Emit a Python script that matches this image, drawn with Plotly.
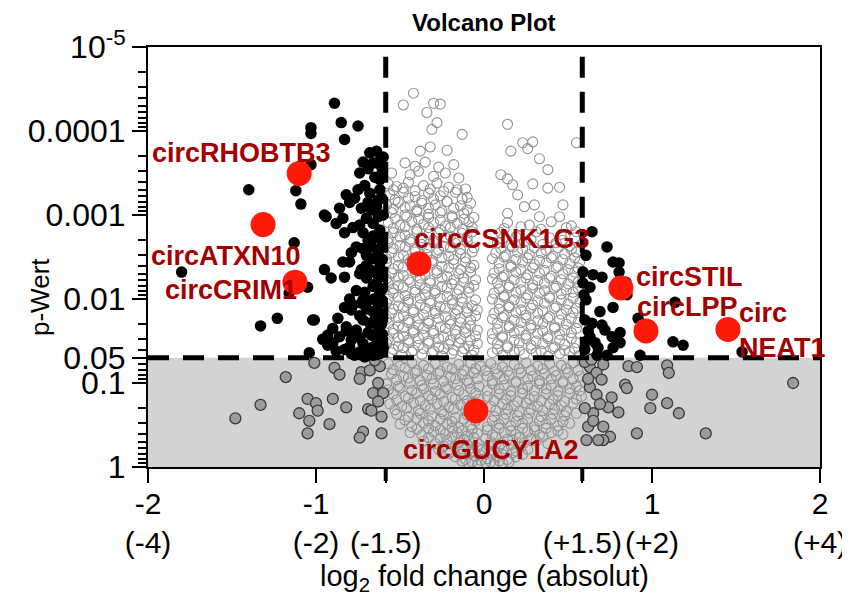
import plotly.graph_objects as go

# ---------------- data ----------------
# each point: (log2 fold change, -log10 p-value)
FC_CUT = 0.585   # log2(1.5)
P_CUT = 0.05

red_names = ["circRHOBTB3", "circATXN10", "circCRIM1", "circCSNK1G3",
             "circGUCY1A2", "circSTIL", "circLPP", "circNEAT1"]
red_fc = [-1.10, -1.315, -1.125, -0.387, -0.048, 0.815, 0.964, 1.452]
red_p = [3.2e-4, 1.3e-3, 6.3e-3, 3.8e-3, 0.215, 7.4e-3, 0.024, 0.023]

# label anchor positions (fold change, -log10 p)
label_text = ["circRHOBTB3", "circATXN10", "circCRIM1", "circCSNK1G3",
              "circGUCY1A2", "circSTIL", "circLPP", "circ<br>NEAT1"]
label_fc = [-1.446, -1.536, -1.506, 0.107, 0.042, 1.226, 1.214, 1.506]
label_nlp = [3.74, 2.51, 2.11, 2.71, 0.20, 2.26, 1.90, 1.63]

black_pts = [
    (-0.89, 4.33), (-0.85, 4.10), (-0.75, 4.06), (-1.03, 4.04), (-1.03, 3.97), (-0.83, 3.90),
    (-0.68, 3.74), (-0.64, 3.76), (-0.60, 3.69), (-0.72, 3.63), (-0.63, 3.63), (-1.03, 3.60),
    (-0.74, 3.50), (-1.40, 3.30), (-1.12, 3.29), (-1.09, 3.13), (-0.75, 3.30), (-0.82, 3.24),
    (-0.77, 3.20), (-0.68, 3.26), (-0.62, 3.30), (-0.63, 3.18), (-0.86, 3.08), (-0.73, 3.08),
    (-0.67, 3.06), (-0.94, 2.98), (-0.84, 2.96), (-0.70, 2.96), (-0.63, 2.98), (-0.88, 2.90),
    (-0.74, 2.88), (-0.66, 2.90), (-0.62, 2.82), (-0.83, 2.79), (-0.72, 2.79), (-0.64, 2.73),
    (-0.76, 2.62), (-0.67, 2.62), (-0.61, 2.62), (-1.13, 2.67), (-0.84, 2.44), (-0.80, 2.44),
    (-0.95, 2.35), (-0.91, 2.25), (-0.83, 2.26), (-0.73, 2.35), (-0.68, 2.35), (-0.62, 2.38),
    (-0.70, 2.25), (-0.64, 2.19), (-0.71, 2.08), (-0.62, 2.07), (-1.05, 2.14), (-1.80, 2.32),
    (-1.16, 2.07), (-0.78, 1.93), (-0.72, 1.99), (-0.63, 1.93), (-0.79, 1.87), (-1.01, 1.75),
    (-0.87, 1.77), (-0.82, 1.67), (-0.72, 1.75), (-0.68, 1.71), (-0.63, 1.67), (-0.76, 1.63),
    (-0.93, 1.57), (-0.86, 1.55), (-0.90, 1.48), (-0.79, 1.51), (-0.74, 1.54), (-0.67, 1.57),
    (-0.62, 1.51), (-0.80, 1.43), (-0.66, 1.43), (-0.60, 1.42), (-1.04, 1.36), (-0.77, 1.33),
    (-0.71, 1.31), (-1.23, 1.77), (-1.33, 1.68), (-1.02, 1.75), (-0.95, 3.00),
    (-0.605, 3.52), (-0.62, 3.42), (-0.65, 3.45), (-0.61, 3.20), (-0.64, 3.10), (-0.60, 3.00),
    (-0.66, 2.75), (-0.61, 2.70), (-0.69, 2.70), (-0.63, 2.55), (-0.605, 2.47), (-0.66, 2.48),
    (-0.70, 2.52), (-0.64, 2.30), (-0.605, 2.27), (-0.66, 2.15), (-0.605, 2.12), (-0.69, 1.98),
    (-0.655, 2.00), (-0.605, 1.98), (-0.70, 1.88), (-0.66, 1.85), (-0.605, 1.82), (-0.74, 1.80),
    (-0.645, 1.77), (-0.61, 1.70), (-0.69, 1.60), (-0.65, 1.55), (-0.605, 1.58), (-0.72, 1.47),
    (-0.635, 1.45), (-0.68, 1.40), (-0.62, 1.35), (-0.74, 1.37), (-0.66, 1.33), (-0.79, 1.35),
    (-0.83, 1.40), (-0.88, 1.38), (-0.71, 3.35), (-0.69, 3.15), (-0.72, 2.60), (-0.70, 2.40),
    (-0.74, 2.30), (-0.76, 2.10), (-0.73, 1.95), (-0.80, 2.00), (-0.83, 1.90), (-0.77, 1.55),
    (-0.82, 1.62), (-0.90, 1.65), (-0.93, 1.45), (-0.96, 1.52), (-0.79, 2.55), (-0.78, 2.85),
    (-0.80, 3.15), (-0.69, 3.55), (-0.66, 3.62), (-0.62, 3.60),
    # right side
    (0.643, 2.80), (0.732, 2.62), (0.768, 2.44), (0.804, 2.43), (0.804, 2.32), (0.589, 2.32),
    (0.649, 2.29), (0.702, 2.26), (0.631, 2.14), (0.589, 2.19), (0.845, 2.20), (0.851, 2.05),
    (0.768, 1.90), (0.917, 1.77), (0.643, 1.71), (0.702, 1.69), (0.720, 1.63), (0.762, 1.55),
    (0.810, 1.60), (0.631, 1.55), (0.661, 1.48), (0.679, 1.42), (0.768, 1.42), (0.810, 1.48),
    (0.929, 1.33), (1.137, 1.96), (1.125, 1.49), (1.185, 1.45), (1.536, 1.37), (0.673, 1.33),
    (0.607, 1.99), (0.601, 1.75), (0.619, 1.51), (0.690, 1.85), (0.732, 1.33), (0.607, 2.52),
    (0.595, 2.05), (0.62, 1.62), (0.60, 1.40),
]

gray_pts = [
    (-1.48, 0.58), (-1.33, 0.74), (-1.18, 1.07), (-1.01, 1.24), (-1.05, 0.81), (-1.00, 0.76),
    (-0.99, 0.67), (-1.10, 0.64), (-1.04, 0.55), (-1.05, 0.40), (-0.90, 0.81), (-0.92, 0.51),
    (-0.89, 1.18), (-0.86, 1.10), (-0.82, 0.71), (-0.73, 1.13), (-0.68, 1.15), (-0.74, 1.05),
    (-0.63, 1.00), (-0.66, 0.88), (-0.60, 0.88), (-0.69, 0.69), (-0.67, 0.67), (-0.72, 0.42),
    (-0.74, 0.35), (-0.61, 0.40), (-0.62, 1.20), (-0.65, 1.27), (-0.61, 0.60), (-0.63, 0.78),
    (1.09, 1.21), (1.10, 1.12), (0.86, 1.20), (0.91, 1.19), (0.84, 0.98), (0.85, 0.94),
    (1.00, 0.86), (1.09, 0.76), (1.16, 0.64), (0.76, 0.83), (0.74, 0.71), (0.80, 0.65),
    (0.99, 0.70), (0.71, 0.48), (0.75, 0.36), (0.71, 0.32), (0.91, 0.40), (1.32, 0.40),
    (1.84, 1.00), (0.63, 1.19), (0.67, 1.12), (0.70, 1.04), (0.63, 0.95), (0.67, 0.86),
    (0.65, 0.64), (0.62, 0.48), (0.68, 0.32), (0.61, 0.32), (0.60, 1.25), (0.64, 1.28),
    (0.71, 1.22), (0.62, 1.05), (0.69, 0.75), (0.60, 0.70), (0.65, 0.55),
]

white_pts = [
    # left lobe, sparse top
    (-0.42, 4.45), (-0.48, 4.31), (-0.30, 4.33), (-0.26, 4.32), (-0.34, 4.22), (-0.28, 4.10),
    (-0.31, 4.02), (-0.13, 3.96), (-0.38, 3.76), (-0.32, 3.81), (-0.22, 3.77), (-0.47, 3.62),
    (-0.41, 3.58), (-0.35, 3.63), (-0.27, 3.57), (-0.18, 3.60), (-0.55, 3.50), (-0.44, 3.48),
    (-0.39, 3.52), (-0.30, 3.46), (-0.23, 3.50), (-0.15, 3.44),
    # left lobe, dense part
    (-0.57, 3.37), (-0.52, 3.34), (-0.45, 3.39), (-0.36, 3.35), (-0.28, 3.38), (-0.21, 3.33), (-0.11, 3.31),
    (-0.54, 3.30), (-0.48, 3.32), (-0.41, 3.29), (-0.32, 3.31), (-0.24, 3.28), (-0.16, 3.30),
    (-0.56, 3.24), (-0.48, 3.27), (-0.41, 3.22), (-0.33, 3.26), (-0.26, 3.23), (-0.17, 3.27), (-0.10, 3.21),
    (-0.53, 3.18), (-0.45, 3.20), (-0.37, 3.17), (-0.30, 3.19), (-0.22, 3.16), (-0.13, 3.19),
    (-0.58, 3.12), (-0.51, 3.15), (-0.44, 3.11), (-0.37, 3.14), (-0.29, 3.12), (-0.22, 3.16), (-0.14, 3.11), (-0.08, 3.14),
    (-0.54, 3.07), (-0.47, 3.09), (-0.40, 3.06), (-0.33, 3.08), (-0.25, 3.05), (-0.18, 3.08), (-0.10, 3.06),
    (-0.55, 3.03), (-0.47, 3.00), (-0.40, 3.04), (-0.33, 3.01), (-0.26, 3.03), (-0.19, 2.99), (-0.12, 3.02),
    (-0.53, 2.96), (-0.46, 2.98), (-0.39, 2.95), (-0.33, 2.97), (-0.26, 2.94), (-0.19, 2.97), (-0.12, 2.95), (-0.06, 2.97),
    (-0.57, 2.91), (-0.50, 2.88), (-0.43, 2.92), (-0.36, 2.89), (-0.30, 2.91), (-0.23, 2.87), (-0.16, 2.90), (-0.09, 2.92),
    (-0.54, 2.84), (-0.47, 2.86), (-0.40, 2.83), (-0.33, 2.85), (-0.26, 2.82), (-0.20, 2.85), (-0.13, 2.83), (-0.07, 2.85),
    (-0.54, 2.79), (-0.47, 2.76), (-0.40, 2.80), (-0.33, 2.77), (-0.27, 2.79), (-0.20, 2.75), (-0.13, 2.78), (-0.07, 2.80),
    (-0.57, 2.72), (-0.50, 2.74), (-0.44, 2.71), (-0.37, 2.73), (-0.30, 2.70), (-0.23, 2.73), (-0.16, 2.71), (-0.10, 2.73),
    (-0.57, 2.67), (-0.50, 2.64), (-0.44, 2.68), (-0.37, 2.65), (-0.30, 2.67), (-0.24, 2.63), (-0.17, 2.66), (-0.10, 2.68),
    (-0.54, 2.60), (-0.47, 2.62), (-0.41, 2.59), (-0.34, 2.61), (-0.27, 2.58), (-0.20, 2.61), (-0.14, 2.59), (-0.06, 2.61),
    (-0.55, 2.55), (-0.48, 2.52), (-0.41, 2.56), (-0.34, 2.53), (-0.28, 2.55), (-0.21, 2.51), (-0.14, 2.54), (-0.07, 2.56),
    (-0.58, 2.48), (-0.51, 2.50), (-0.45, 2.47), (-0.38, 2.49), (-0.31, 2.46), (-0.25, 2.49), (-0.18, 2.47), (-0.11, 2.49),
    (-0.58, 2.43), (-0.51, 2.40), (-0.44, 2.44), (-0.38, 2.41), (-0.31, 2.43), (-0.25, 2.39), (-0.18, 2.42), (-0.11, 2.44), (-0.06, 2.40),
    (-0.54, 2.36), (-0.48, 2.38), (-0.41, 2.35), (-0.35, 2.37), (-0.28, 2.34), (-0.21, 2.37), (-0.14, 2.35), (-0.08, 2.37),
    (-0.55, 2.31), (-0.48, 2.28), (-0.41, 2.32), (-0.35, 2.29), (-0.28, 2.31), (-0.22, 2.27), (-0.15, 2.30), (-0.08, 2.32),
    (-0.58, 2.24), (-0.51, 2.26), (-0.45, 2.23), (-0.38, 2.25), (-0.32, 2.22), (-0.25, 2.25), (-0.18, 2.23), (-0.12, 2.25), (-0.05, 2.23),
    (-0.57, 2.19), (-0.51, 2.16), (-0.44, 2.20), (-0.38, 2.17), (-0.32, 2.19), (-0.25, 2.15), (-0.19, 2.18), (-0.12, 2.20), (-0.06, 2.16),
    (-0.54, 2.12), (-0.48, 2.14), (-0.41, 2.11), (-0.35, 2.13), (-0.29, 2.10), (-0.22, 2.13), (-0.15, 2.11), (-0.09, 2.13),
    (-0.54, 2.07), (-0.47, 2.04), (-0.41, 2.08), (-0.35, 2.05), (-0.29, 2.07), (-0.22, 2.03), (-0.16, 2.06), (-0.09, 2.08),
    (-0.57, 2.00), (-0.51, 2.02), (-0.45, 1.99), (-0.38, 2.01), (-0.32, 1.98), (-0.26, 2.01), (-0.19, 1.99), (-0.13, 2.01), (-0.05, 1.99),
    (-0.58, 1.95), (-0.51, 1.92), (-0.45, 1.96), (-0.38, 1.93), (-0.32, 1.95), (-0.26, 1.91), (-0.19, 1.94), (-0.13, 1.96), (-0.07, 1.92),
    (-0.54, 1.88), (-0.48, 1.90), (-0.42, 1.87), (-0.35, 1.89), (-0.29, 1.86), (-0.23, 1.89), (-0.16, 1.87), (-0.10, 1.89), (-0.04, 1.87),
    (-0.55, 1.83), (-0.48, 1.80), (-0.42, 1.84), (-0.36, 1.81), (-0.29, 1.83), (-0.23, 1.79), (-0.17, 1.82), (-0.10, 1.84), (-0.05, 1.80),
    (-0.58, 1.76), (-0.51, 1.78), (-0.45, 1.75), (-0.39, 1.77), (-0.33, 1.74), (-0.27, 1.77), (-0.20, 1.75), (-0.14, 1.77), (-0.08, 1.75),
    (-0.57, 1.71), (-0.51, 1.68), (-0.45, 1.72), (-0.39, 1.69), (-0.33, 1.71), (-0.26, 1.67), (-0.20, 1.70), (-0.14, 1.72), (-0.08, 1.68),
    (-0.54, 1.64), (-0.48, 1.66), (-0.42, 1.63), (-0.36, 1.65), (-0.30, 1.62), (-0.23, 1.65), (-0.17, 1.63), (-0.11, 1.65), (-0.04, 1.63),
    (-0.54, 1.59), (-0.48, 1.56), (-0.42, 1.60), (-0.36, 1.57), (-0.30, 1.59), (-0.24, 1.55), (-0.17, 1.58), (-0.11, 1.60), (-0.05, 1.56),
    (-0.57, 1.52), (-0.51, 1.54), (-0.45, 1.51), (-0.39, 1.53), (-0.33, 1.50), (-0.27, 1.53), (-0.20, 1.51), (-0.14, 1.53), (-0.08, 1.51),
    (-0.58, 1.47), (-0.51, 1.44), (-0.45, 1.48), (-0.39, 1.45), (-0.33, 1.47), (-0.27, 1.43), (-0.21, 1.46), (-0.15, 1.48), (-0.09, 1.44), (-0.04, 1.47),
    (-0.54, 1.40), (-0.48, 1.42), (-0.42, 1.39), (-0.36, 1.41), (-0.30, 1.38), (-0.24, 1.41), (-0.18, 1.39), (-0.12, 1.41), (-0.06, 1.39),
    (-0.55, 1.36), (-0.49, 1.33), (-0.43, 1.37), (-0.37, 1.34), (-0.31, 1.36), (-0.25, 1.32), (-0.19, 1.35), (-0.13, 1.37), (-0.07, 1.33),
    # right lobe, sparse top
    (0.14, 4.08), (0.23, 3.86), (0.29, 3.87), (0.26, 3.79), (0.55, 3.86), (0.16, 3.76), (0.33, 3.67),
    (0.38, 3.54), (0.10, 3.48), (0.14, 3.43), (0.17, 3.36), (0.29, 3.37), (0.38, 3.32), (0.45, 3.33),
    (0.20, 3.24), (0.24, 3.10), (0.30, 3.12), (0.47, 3.12), (0.33, 2.98), (0.14, 3.02), (0.45, 2.98),
    # right lobe, dense part
    (0.14, 2.91), (0.27, 2.88), (0.40, 2.92), (0.52, 2.87),
    (0.12, 2.84), (0.22, 2.86), (0.34, 2.83), (0.49, 2.85),
    (0.10, 2.79), (0.20, 2.76), (0.31, 2.80), (0.46, 2.77), (0.55, 2.80),
    (0.11, 2.72), (0.19, 2.74), (0.28, 2.71), (0.39, 2.73), (0.47, 2.70), (0.54, 2.73),
    (0.08, 2.67), (0.16, 2.64), (0.24, 2.68), (0.35, 2.65), (0.43, 2.67), (0.51, 2.63),
    (0.10, 2.60), (0.17, 2.62), (0.23, 2.59), (0.30, 2.61), (0.37, 2.58), (0.44, 2.61), (0.52, 2.59),
    (0.07, 2.55), (0.13, 2.52), (0.20, 2.56), (0.27, 2.53), (0.34, 2.55), (0.41, 2.51), (0.48, 2.54), (0.55, 2.56),
    (0.05, 2.48), (0.12, 2.50), (0.19, 2.47), (0.26, 2.49), (0.33, 2.46), (0.40, 2.49), (0.47, 2.47), (0.54, 2.49),
    (0.09, 2.43), (0.16, 2.40), (0.23, 2.44), (0.30, 2.41), (0.37, 2.43), (0.44, 2.39), (0.51, 2.42), (0.57, 2.44),
    (0.09, 2.36), (0.16, 2.38), (0.22, 2.35), (0.29, 2.37), (0.36, 2.34), (0.43, 2.37), (0.50, 2.35), (0.56, 2.37),
    (0.06, 2.31), (0.12, 2.28), (0.19, 2.32), (0.26, 2.29), (0.33, 2.31), (0.40, 2.27), (0.47, 2.30), (0.54, 2.32),
    (0.05, 2.24), (0.11, 2.26), (0.18, 2.23), (0.25, 2.25), (0.32, 2.22), (0.39, 2.25), (0.46, 2.23), (0.53, 2.25),
    (0.08, 2.19), (0.15, 2.16), (0.22, 2.20), (0.29, 2.17), (0.36, 2.19), (0.43, 2.15), (0.50, 2.18), (0.56, 2.20),
    (0.09, 2.12), (0.15, 2.14), (0.22, 2.11), (0.29, 2.13), (0.36, 2.10), (0.42, 2.13), (0.49, 2.11), (0.56, 2.13),
    (0.06, 2.07), (0.12, 2.04), (0.19, 2.08), (0.26, 2.05), (0.33, 2.07), (0.39, 2.03), (0.46, 2.06), (0.53, 2.08),
    (0.05, 2.00), (0.12, 2.02), (0.18, 1.99), (0.25, 2.01), (0.32, 1.98), (0.39, 2.01), (0.46, 1.99), (0.53, 2.01),
    (0.09, 1.95), (0.15, 1.92), (0.22, 1.96), (0.29, 1.93), (0.36, 1.95), (0.43, 1.91), (0.50, 1.94), (0.57, 1.96),
    (0.09, 1.88), (0.15, 1.90), (0.22, 1.87), (0.28, 1.89), (0.35, 1.86), (0.42, 1.89), (0.49, 1.87), (0.55, 1.89),
    (0.06, 1.83), (0.12, 1.80), (0.19, 1.84), (0.25, 1.81), (0.32, 1.83), (0.39, 1.79), (0.46, 1.82), (0.53, 1.84),
    (0.05, 1.76), (0.11, 1.78), (0.18, 1.75), (0.25, 1.77), (0.32, 1.74), (0.38, 1.77), (0.45, 1.75), (0.52, 1.77),
    (0.08, 1.71), (0.15, 1.68), (0.22, 1.72), (0.28, 1.69), (0.35, 1.71), (0.42, 1.67), (0.49, 1.70), (0.56, 1.72),
    (0.08, 1.64), (0.15, 1.66), (0.21, 1.63), (0.28, 1.65), (0.35, 1.62), (0.42, 1.65), (0.48, 1.63), (0.55, 1.65),
    (0.05, 1.59), (0.11, 1.56), (0.18, 1.60), (0.25, 1.57), (0.32, 1.59), (0.38, 1.55), (0.45, 1.58), (0.52, 1.60),
    (0.05, 1.52), (0.11, 1.54), (0.18, 1.51), (0.25, 1.53), (0.31, 1.50), (0.38, 1.53), (0.45, 1.51), (0.52, 1.53),
    (0.08, 1.47), (0.14, 1.44), (0.21, 1.48), (0.28, 1.45), (0.35, 1.47), (0.42, 1.43), (0.48, 1.46), (0.55, 1.48),
    (0.08, 1.40), (0.14, 1.42), (0.21, 1.39), (0.28, 1.41), (0.34, 1.38), (0.41, 1.41), (0.48, 1.39), (0.54, 1.41),
    (0.05, 1.36), (0.11, 1.33), (0.18, 1.37), (0.24, 1.34), (0.31, 1.36), (0.38, 1.32), (0.45, 1.35), (0.51, 1.37), (0.57, 1.33),
    # not significant (p > 0.05)
    (-0.57, 1.23), (-0.50, 1.20), (-0.43, 1.24), (-0.36, 1.21), (-0.29, 1.23), (-0.22, 1.19), (-0.15, 1.22), (-0.08, 1.24),
    (-0.02, 1.20), (0.04, 1.23), (0.11, 1.19), (0.18, 1.22), (0.25, 1.24), (0.32, 1.20), (0.39, 1.23), (0.46, 1.21), (0.53, 1.24),
    (-0.54, 1.16), (-0.47, 1.18), (-0.40, 1.15), (-0.33, 1.17), (-0.26, 1.14), (-0.19, 1.17), (-0.12, 1.15), (-0.05, 1.17),
    (0.01, 1.15), (0.07, 1.17), (0.14, 1.14), (0.21, 1.17), (0.28, 1.15), (0.35, 1.17), (0.42, 1.14), (0.49, 1.17), (0.56, 1.15),
    (-0.55, 1.11), (-0.48, 1.08), (-0.41, 1.12), (-0.34, 1.09), (-0.27, 1.11), (-0.20, 1.07), (-0.13, 1.10), (-0.06, 1.12),
    (0.02, 1.08), (0.08, 1.11), (0.15, 1.09), (0.22, 1.12), (0.29, 1.08), (0.36, 1.11), (0.43, 1.09), (0.50, 1.12), (0.57, 1.08),
    (-0.52, 1.04), (-0.45, 1.06), (-0.38, 1.03), (-0.31, 1.05), (-0.24, 1.02), (-0.17, 1.05), (-0.10, 1.03), (-0.04, 1.05),
    (0.05, 1.03), (0.12, 1.05), (0.19, 1.02), (0.26, 1.05), (0.33, 1.03), (0.40, 1.05), (0.47, 1.02), (0.53, 1.05),
    (-0.58, 0.99), (-0.51, 0.96), (-0.44, 1.00), (-0.37, 0.97), (-0.30, 0.99), (-0.23, 0.95), (-0.16, 0.98), (-0.09, 1.00),
    (-0.03, 0.96), (0.05, 0.99), (0.12, 0.97), (0.19, 1.00), (0.26, 0.96), (0.33, 0.99), (0.40, 0.97), (0.47, 1.00), (0.55, 0.96),
    (-0.57, 0.92), (-0.50, 0.94), (-0.43, 0.91), (-0.36, 0.93), (-0.29, 0.90), (-0.22, 0.93), (-0.15, 0.91), (-0.08, 0.93),
    (0.02, 0.91), (0.09, 0.93), (0.16, 0.90), (0.23, 0.93), (0.30, 0.91), (0.37, 0.93), (0.44, 0.90), (0.51, 0.93), (0.57, 0.91),
    (-0.54, 0.87), (-0.47, 0.84), (-0.40, 0.88), (-0.33, 0.85), (-0.26, 0.87), (-0.19, 0.83), (-0.12, 0.86), (-0.05, 0.88),
    (0.02, 0.84), (0.09, 0.87), (0.16, 0.85), (0.23, 0.88), (0.30, 0.84), (0.37, 0.87), (0.44, 0.85), (0.51, 0.88), (0.58, 0.84),
    (-0.52, 0.80), (-0.45, 0.82), (-0.38, 0.79), (-0.31, 0.81), (-0.24, 0.78), (-0.17, 0.81), (-0.10, 0.79), (-0.03, 0.81),
    (0.06, 0.79), (0.13, 0.81), (0.20, 0.78), (0.27, 0.81), (0.34, 0.79), (0.41, 0.81), (0.48, 0.78), (0.55, 0.81),
    (-0.56, 0.75), (-0.49, 0.72), (-0.42, 0.76), (-0.35, 0.73), (-0.28, 0.75), (-0.21, 0.71), (-0.14, 0.74), (-0.07, 0.76),
    (0.04, 0.72), (0.11, 0.75), (0.18, 0.73), (0.25, 0.76), (0.32, 0.72), (0.39, 0.75), (0.46, 0.73), (0.53, 0.76),
    (-0.53, 0.68), (-0.46, 0.70), (-0.39, 0.67), (-0.32, 0.69), (-0.25, 0.66), (-0.18, 0.69), (-0.11, 0.67), (-0.04, 0.69),
    (0.07, 0.67), (0.14, 0.69), (0.21, 0.66), (0.28, 0.69), (0.35, 0.67), (0.42, 0.69), (0.49, 0.66),
    (-0.52, 0.63), (-0.45, 0.60), (-0.38, 0.64), (-0.31, 0.61), (-0.24, 0.63), (-0.17, 0.59), (-0.10, 0.62), (-0.03, 0.64),
    (0.06, 0.60), (0.13, 0.63), (0.20, 0.61), (0.27, 0.64), (0.34, 0.60), (0.41, 0.63), (0.48, 0.61), (0.55, 0.64),
    (-0.47, 0.56), (-0.40, 0.58), (-0.33, 0.55), (-0.26, 0.57), (-0.19, 0.54), (-0.12, 0.57), (-0.05, 0.55),
    (0.05, 0.55), (0.12, 0.57), (0.19, 0.54), (0.26, 0.57), (0.33, 0.55), (0.40, 0.57), (0.47, 0.54),
    (-0.50, 0.51), (-0.43, 0.48), (-0.36, 0.52), (-0.29, 0.49), (-0.22, 0.51), (-0.15, 0.47), (-0.08, 0.50),
    (0.02, 0.48), (0.09, 0.51), (0.16, 0.49), (0.23, 0.52), (0.30, 0.48), (0.37, 0.51), (0.44, 0.49), (0.51, 0.52),
    (-0.40, 0.45), (-0.33, 0.46), (-0.26, 0.44), (-0.19, 0.46), (-0.13, 0.43), (-0.07, 0.45),
    (0.02, 0.44), (0.09, 0.46), (0.16, 0.43), (0.23, 0.46), (0.30, 0.44), (0.37, 0.46), (0.44, 0.43),
    (-0.44, 0.41), (-0.37, 0.38), (-0.30, 0.42), (-0.23, 0.39), (-0.16, 0.41), (-0.10, 0.37), (-0.04, 0.40),
    (0.05, 0.38), (0.12, 0.41), (0.19, 0.39), (0.26, 0.42), (0.33, 0.38), (0.40, 0.41), (0.47, 0.39),
    (-0.33, 0.35), (-0.26, 0.34), (-0.19, 0.36), (-0.12, 0.33), (-0.06, 0.35), (0.01, 0.34),
    (0.07, 0.36), (0.14, 0.33), (0.21, 0.35), (0.28, 0.34), (0.35, 0.36),
    (-0.36, 0.31), (-0.29, 0.28), (-0.22, 0.32), (-0.15, 0.29), (-0.09, 0.31), (-0.03, 0.27),
    (0.04, 0.30), (0.10, 0.28), (0.17, 0.32), (0.24, 0.29), (0.31, 0.31), (0.38, 0.28),
    (-0.24, 0.25), (-0.17, 0.24), (-0.10, 0.26), (-0.04, 0.23), (0.03, 0.25), (0.09, 0.24), (0.16, 0.26), (0.22, 0.24),
    (-0.27, 0.21), (-0.20, 0.18), (-0.13, 0.22), (-0.07, 0.19), (-0.01, 0.21), (0.06, 0.18), (0.12, 0.22), (0.19, 0.19), (0.26, 0.21),
    (-0.21, 0.16), (-0.14, 0.15), (-0.08, 0.17), (-0.02, 0.14), (0.05, 0.16), (0.11, 0.15), (0.17, 0.17), (0.23, 0.15),
    (-0.17, 0.12), (-0.11, 0.09), (-0.05, 0.13), (0.02, 0.10), (0.08, 0.12), (0.14, 0.09), (0.19, 0.12),
    (-0.13, 0.07), (-0.07, 0.06), (-0.02, 0.08), (0.04, 0.06), (0.09, 0.07), (0.15, 0.06),
    (-0.09, 0.04), (-0.04, 0.02), (0.01, 0.05), (0.06, 0.03), (0.11, 0.05),
]

x_tickvals = [-2, -1, -0.585, 0, 0.585, 1, 2]
x_ticktext = ["-2<br>(-4)", "-1<br>(-2)", "\u00a0<br>(-1.5)", "0", "\u00a0<br>(+1.5)", "1<br>(+2)", "2<br>(+4)"]
y_tickvals = [1e-5, 1e-4, 1e-3, 1e-2, 0.05, 0.1, 1]
y_ticktext = ["10<sup>-5</sup>", "0.0001", "0.001", "0.01", "0.05", "0.1", "1"]

# ---------------- figure ----------------
FONT = "Liberation Sans, Arial, sans-serif"
OFF = 8                                  # page body margin of the html page
W, H = 850 - OFF, 596 - OFF
L, R, T, B = 148 - OFF, 820 - OFF, 47 - OFF, 467 - OFF   # plot area, figure pixels
PW, PH = R - L, B - T


def to_xy(pts):
    return [p[0] for p in pts], [10 ** (-p[1]) for p in pts]


def py(screen_y):
    """paper y for a screen pixel row"""
    return (B - (screen_y - OFF)) / PH


def px(screen_x):
    return ((screen_x - OFF) - L) / PW


fig = go.Figure()

wx, wy = to_xy(white_pts)
fig.add_trace(go.Scatter(x=wx, y=wy, mode="markers", hoverinfo="skip",
                         marker=dict(symbol="circle-open", size=10, color="#939393",
                                     line=dict(width=1.1, color="#939393"))))
gx, gy = to_xy(gray_pts)
fig.add_trace(go.Scatter(x=gx, y=gy, mode="markers",
                         marker=dict(symbol="circle", size=11, color="#9c9c9c",
                                     line=dict(width=1.3, color="#3a3a3a"))))
bx, by = to_xy(black_pts)
fig.add_trace(go.Scatter(x=bx, y=by, mode="markers",
                         marker=dict(symbol="circle", size=11.5, color="#000000",
                                     line=dict(width=0))))
fig.add_trace(go.Scatter(x=red_fc, y=red_p, mode="markers", text=red_names,
                         marker=dict(symbol="circle", size=25, color="#ff1a0a",
                                     line=dict(width=0))))

# y range is log10 p from 0 (bottom) to -5 (top): paper y = -log10(p)/5
Y005 = 1.30103 / 5.0
DASH = "21px,14px"
TICK_P = 14.0 / PH
shapes = [
    dict(type="rect", xref="x", yref="paper", x0=-2, x1=2, y0=0, y1=Y005,
         fillcolor="#d3d3d3", line=dict(width=0), layer="below"),
    dict(type="line", xref="x", yref="paper", x0=-2, x1=2, y0=Y005, y1=Y005,
         line=dict(color="black", width=5, dash=DASH), layer="above"),
    dict(type="line", xref="x", yref="paper", x0=-FC_CUT, x1=-FC_CUT, y0=Y005, y1=1,
         line=dict(color="black", width=5, dash=DASH), layer="above"),
    dict(type="line", xref="x", yref="paper", x0=FC_CUT, x1=FC_CUT, y0=Y005, y1=1,
         line=dict(color="black", width=5, dash=DASH), layer="above"),
    # heavier ticks at the +/-1.5 fold thresholds
    dict(type="line", xref="x", yref="paper", x0=-FC_CUT, x1=-FC_CUT, y0=0, y1=-TICK_P,
         line=dict(color="black", width=4), layer="above"),
    dict(type="line", xref="x", yref="paper", x0=FC_CUT, x1=FC_CUT, y0=0, y1=-TICK_P,
         line=dict(color="black", width=4), layer="above"),
]

annotations = []
for t, lx, ly in zip(label_text, label_fc, label_nlp):
    left = "<br>" in t
    annotations.append(dict(x=lx, y=ly / 5.0, xref="x", yref="paper", text="<b>" + t + "</b>",
                            showarrow=False, xanchor="left" if left else "center",
                            yanchor="middle", align="left",
                            font=dict(family=FONT, size=27, color="#a30000")))
annotations.append(dict(x=px(484), y=py(578), xref="paper", yref="paper",
                        text="log<sub>2</sub> fold change (absolut)", showarrow=False,
                        xanchor="center", yanchor="middle",
                        font=dict(family=FONT, size=29, color="black")))
annotations.append(dict(x=px(40), y=py(297), xref="paper", yref="paper",
                        text="p-Wert", showarrow=False, textangle=-90,
                        xanchor="center", yanchor="middle",
                        font=dict(family=FONT, size=26, color="black")))
annotations.append(dict(x=px(484), y=py(OFF), xref="paper", yref="paper",
                        text="<b>Volcano Plot</b>", showarrow=False,
                        xanchor="center", yanchor="top", borderpad=0,
                        font=dict(family=FONT, size=24, color="black")))

minor_y = [k * 10 ** e for e in range(-5, 0) for k in range(2, 10)]

fig.update_layout(
    width=W, height=H,
    margin=dict(l=L, r=W - R, t=T, b=H - B, autoexpand=False),
    paper_bgcolor="white", plot_bgcolor="white",
    showlegend=False,
    shapes=shapes,
    annotations=annotations,
    xaxis=dict(range=[-2, 2], tickmode="array", tickvals=x_tickvals, ticktext=x_ticktext,
               tickangle=0, ticks="outside", ticklen=14, tickwidth=2, tickcolor="black",
               showline=True, linewidth=2, linecolor="black", mirror=True,
               showgrid=False, zeroline=False, automargin=False,
               ticklabelstandoff=-5,
               tickfont=dict(family=FONT, size=30, color="black")),
    yaxis=dict(type="log", range=[0, -5], tickmode="array", tickvals=y_tickvals,
               ticktext=y_ticktext, ticks="outside", ticklen=14, tickwidth=2,
               tickcolor="black", showline=True, linewidth=2, linecolor="black",
               mirror=True, showgrid=False, zeroline=False, automargin=False,
               minor=dict(tickmode="array", tickvals=minor_y, ticks="outside",
                          ticklen=8, tickwidth=1.5, tickcolor="black", showgrid=False),
               tickfont=dict(family=FONT, size=32, color="black")),
)

fig.write_html("out.html")
